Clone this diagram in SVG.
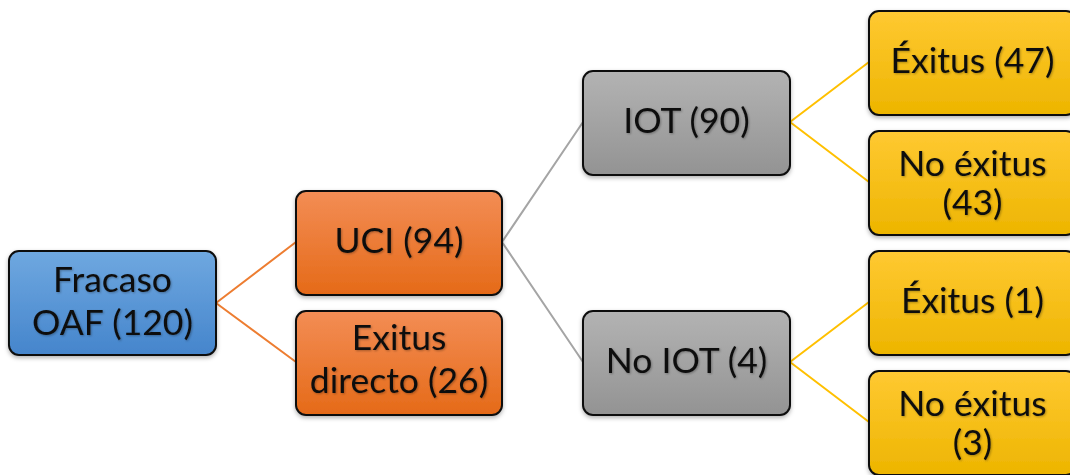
<svg xmlns="http://www.w3.org/2000/svg" width="1070" height="475" viewBox="0 0 1070 475">
<defs>
<linearGradient id="gBlue" x1="0" y1="0" x2="0" y2="1"><stop offset="0" stop-color="#6FA8E0"/><stop offset="1" stop-color="#4585CC"/></linearGradient>
<linearGradient id="gOrange" x1="0" y1="0" x2="0" y2="1"><stop offset="0" stop-color="#F38D55"/><stop offset="1" stop-color="#E56A18"/></linearGradient>
<linearGradient id="gGray" x1="0" y1="0" x2="0" y2="1"><stop offset="0" stop-color="#B3B3B3"/><stop offset="1" stop-color="#939393"/></linearGradient>
<linearGradient id="gYellow" x1="0" y1="0" x2="0" y2="1"><stop offset="0" stop-color="#FFC932"/><stop offset="1" stop-color="#EDB500"/></linearGradient>
<filter id="sh" x="-10%" y="-10%" width="120%" height="130%"><feDropShadow dx="0" dy="2" stdDeviation="2" flood-color="#000" flood-opacity="0.3"/></filter>
<filter id="tsh" x="-10%" y="-10%" width="120%" height="130%"><feDropShadow dx="1" dy="1" stdDeviation="1" flood-color="#000" flood-opacity="0.3"/></filter>
</defs>
<style>
.box{stroke:#111;stroke-width:2;filter:url(#sh)}
.t{font-family:Lato,"Liberation Sans",sans-serif;font-size:35.5px;fill:#111;text-anchor:middle;filter:url(#tsh)}
.c{fill:none;stroke-width:2}
</style>
<g id="connectors">
<path class="c" stroke="#ED7D31" d="M216,303 L296,242 M216,303 L296,362"/>
<path class="c" stroke="#A5A5A5" d="M502,242 L583,122 M502,242 L583,362"/>
<path class="c" stroke="#FFC000" d="M790,122 L869,62 M790,122 L869,182 M790,362 L869,302 M790,362 L869,422"/>
</g>
<g id="n-fracaso"><rect class="box" x="9" y="251" width="207" height="104" rx="10" fill="url(#gBlue)"/><text class="t" x="112.5" y="292">Fracaso</text><text class="t" x="112.5" y="335">OAF (120)</text></g>
<g id="n-uci"><rect class="box" x="296" y="191" width="206" height="104" rx="10" fill="url(#gOrange)"/><text class="t" x="399" y="253">UCI (94)</text></g>
<g id="n-exitus-directo"><rect class="box" x="296" y="311" width="206" height="104" rx="10" fill="url(#gOrange)"/><text class="t" x="399" y="350">Exitus</text><text class="t" x="399" y="393">directo (26)</text></g>
<g id="n-iot"><rect class="box" x="583" y="71" width="207" height="104" rx="10" fill="url(#gGray)"/><text class="t" x="686.5" y="133">IOT (90)</text></g>
<g id="n-no-iot"><rect class="box" x="583" y="311" width="207" height="104" rx="10" fill="url(#gGray)"/><text class="t" x="686.5" y="373">No IOT (4)</text></g>
<g id="n-exitus-47"><rect class="box" x="869" y="11" width="207" height="104" rx="10" fill="url(#gYellow)"/><text class="t" x="972.5" y="73">Éxitus (47)</text></g>
<g id="n-no-exitus-43"><rect class="box" x="869" y="131" width="207" height="104" rx="10" fill="url(#gYellow)"/><text class="t" x="972.5" y="176">No éxitus</text><text class="t" x="972.5" y="215">(43)</text></g>
<g id="n-exitus-1"><rect class="box" x="869" y="251" width="207" height="104" rx="10" fill="url(#gYellow)"/><text class="t" x="972.5" y="313">Éxitus (1)</text></g>
<g id="n-no-exitus-3"><rect class="box" x="869" y="371" width="207" height="104" rx="10" fill="url(#gYellow)"/><text class="t" x="972.5" y="416">No éxitus</text><text class="t" x="972.5" y="455">(3)</text></g>
</svg>
